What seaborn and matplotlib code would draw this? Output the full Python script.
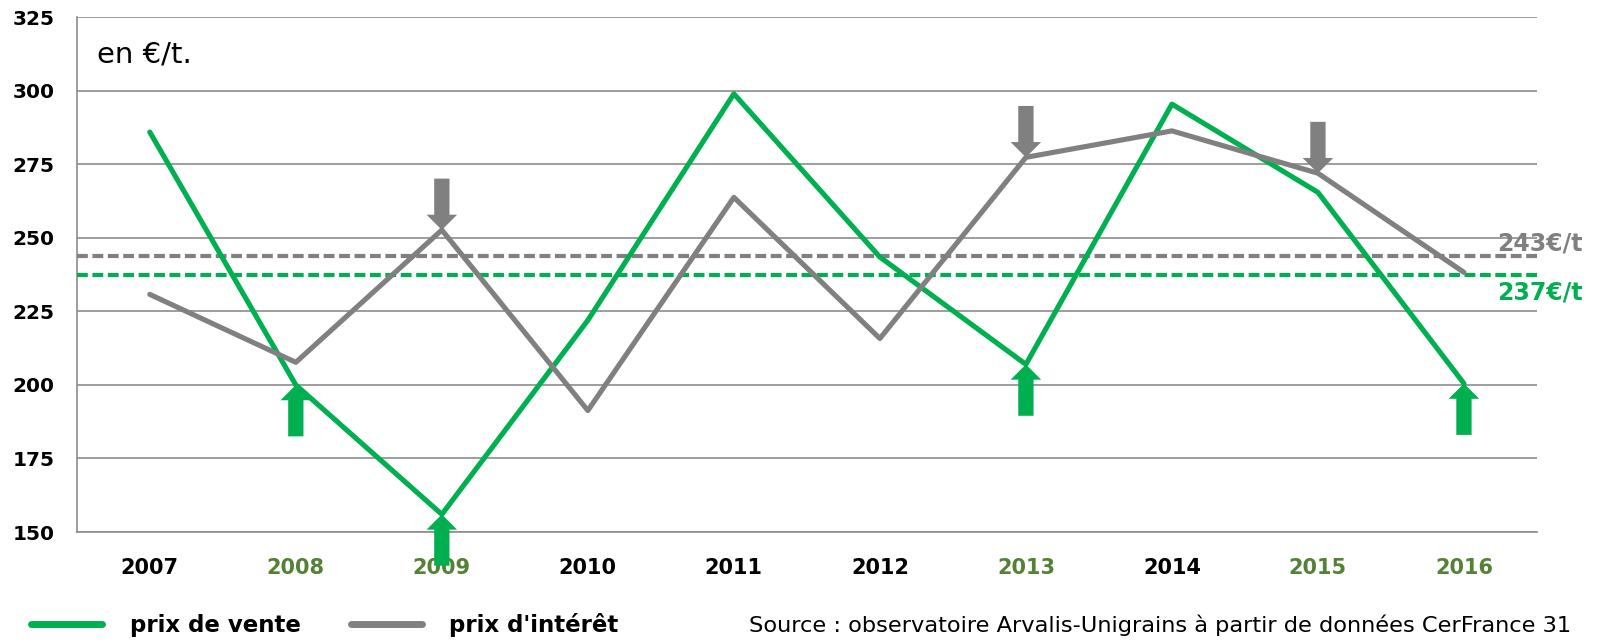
import matplotlib
matplotlib.use("Agg")
import matplotlib.pyplot as plt
import seaborn as sns
import pandas as pd
import numpy as np

years = ["2007", "2008", "2009", "2010", "2011", "2012", "2013", "2014", "2015", "2016"]
prix_vente = [286, 200, 156, 222, 299, 243.5, 207, 295.5, 265.5, 200.5]
prix_interet = [230.8, 207.7, 252.7, 191.3, 263.8, 215.8, 277.4, 286.4, 272, 238.3]
moyennes = [243.7, 237.5]          # gris, vert
moyennes_labels = ["243€/t", "237€/t"]
years_verts = ["2008", "2009", "2013", "2015", "2016"]   # libellés en vert
fleches_bas = ["2009", "2013", "2015"]                 # flèches grises
fleches_haut = ["2008", "2009", "2013", "2016"]        # flèches vertes

VERT = "#00B050"
GRIS = "#808080"
GRID = "#8C8C8C"
VERT_LABEL = "#538135"

df = pd.DataFrame({
    "annee": years * 2,
    "prix": prix_vente + prix_interet,
    "serie": ["prix de vente"] * len(years) + ["prix d'intérêt"] * len(years),
})

sns.set_style("white")
plt.rcParams["font.family"] = ["DejaVu Sans"]
plt.rcParams["text.color"] = "black"
plt.rcParams["xtick.labelcolor"] = "black"
plt.rcParams["ytick.labelcolor"] = "black"

fig = plt.figure(figsize=(16, 6.43), dpi=100)
ax = fig.add_axes([0.048, 0.1726, 0.9126, 0.8004])

sns.lineplot(data=df, x="annee", y="prix", hue="serie",
             palette={"prix de vente": VERT, "prix d'intérêt": GRIS},
             linewidth=3.7, ax=ax, zorder=4)

# moyennes en pointillés
ax.axhline(moyennes[0], color=GRIS, lw=3, ls=(0, (2.6, 1.1)), zorder=3)
ax.axhline(moyennes[1], color=VERT, lw=3, ls=(0, (2.6, 1.1)), zorder=3)
ax.annotate(moyennes_labels[0], xy=(1.0315, moyennes[0]),
            xycoords=("axes fraction", "data"), xytext=(0, 1),
            textcoords="offset points", ha="right", va="bottom",
            fontsize=17, fontweight="bold", color=GRIS, annotation_clip=False)
ax.annotate(moyennes_labels[1], xy=(1.0315, moyennes[1]),
            xycoords=("axes fraction", "data"), xytext=(0, -4),
            textcoords="offset points", ha="right", va="top",
            fontsize=17, fontweight="bold", color=VERT, annotation_clip=False)

# flèches
for y in fleches_bas:
    i = years.index(y)
    ax.annotate("", xy=(i, prix_interet[i]), xytext=(0, 37), textcoords="offset points",
                arrowprops=dict(width=11, headwidth=22, headlength=11,
                                shrinkA=0, shrinkB=4, color=GRIS, lw=0), zorder=5)
for y in fleches_haut:
    i = years.index(y)
    ax.annotate("", xy=(i, prix_vente[i]), xytext=(0, -37), textcoords="offset points",
                arrowprops=dict(width=11, headwidth=22, headlength=11,
                                shrinkA=0, shrinkB=4, color=VERT, lw=0),
                zorder=5, annotation_clip=False)

ax.text(0.0137, 312.5, "en €/t.", transform=ax.get_yaxis_transform(),
        fontsize=21, va="center", ha="left")

# axes
ax.set_xlim(-0.5, 9.5)
ax.set_ylim(150, 325)
ax.set_yticks(np.arange(150, 326, 25))
ax.set_xticks(np.arange(-0.5, 10, 1), minor=True)
ax.grid(axis="y", color=GRID, lw=1.2)
ax.set_axisbelow(True)
for s in ["top", "right"]:
    ax.spines[s].set_visible(False)
for s in ["left", "bottom"]:
    ax.spines[s].set_color(GRID)
    ax.spines[s].set_linewidth(1.2)
ax.tick_params(axis="y", length=5, width=1.2, color=GRID, pad=11,
               labelsize=14.5)
ax.tick_params(axis="x", which="major", length=0, pad=19, labelsize=15)
ax.tick_params(axis="x", which="minor", length=5, width=1.2, color=GRID)
for lab in ax.get_yticklabels():
    lab.set_fontweight("bold")
for lab in ax.get_xticklabels():
    lab.set_fontweight("bold")
    lab.set_color(VERT_LABEL if lab.get_text() in years_verts else "black")
ax.set_xlabel("")
ax.set_ylabel("")

# légende
handles, labels = ax.get_legend_handles_labels()
ax.get_legend().remove()
leg = fig.legend(handles, labels, loc="center left", bbox_to_anchor=(0.0065, 0.0275),
                 ncol=2, frameon=False, handlelength=3.1, handletextpad=1.2,
                 columnspacing=2.2, prop={"size": 16.5, "weight": "bold"})
for h in leg.legend_handles:
    h.set_linewidth(5)

fig.text(0.982, 0.0275, "Source : observatoire Arvalis-Unigrains à partir de données CerFrance 31",
         ha="right", va="center", fontsize=16.2)

plt.savefig("out.png")
plt.close()
